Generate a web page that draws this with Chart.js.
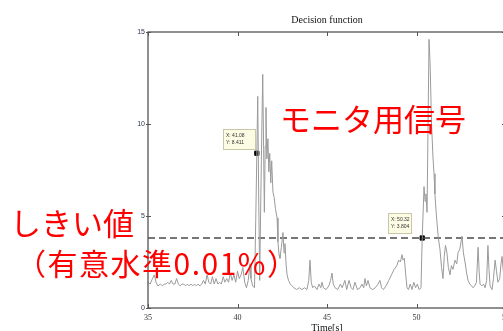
<!DOCTYPE html>
<html>
<head>
<meta charset="utf-8">
<script src="https://cdn.jsdelivr.net/npm/chart.js@4"></script>
<style>
  html, body { margin: 0; padding: 0; background: #fff; overflow: hidden; width: 503px; height: 331px; }
  canvas { display: block; }
</style>
</head>
<body>
<canvas id="myChart" width="515" height="334"></canvas>
<script>
// time axis [s] and decision function values
const times = [
  35.0, 35.12, 35.25, 35.35, 35.45, 35.55, 35.7, 35.8, 35.9, 36.0,
  36.1, 36.2, 36.3, 36.4, 36.5, 36.6, 36.7, 36.8, 36.9, 37.0,
  37.1, 37.2, 37.3, 37.4, 37.5, 37.6, 37.7, 37.8, 37.9, 38.0,
  38.1, 38.2, 38.3, 38.4, 38.5, 38.6, 38.7, 38.8, 38.9, 39.0,
  39.1, 39.2, 39.3, 39.4, 39.5, 39.6, 39.7, 39.8, 39.9, 40.0,
  40.1, 40.2, 40.3, 40.4, 40.5, 40.6, 40.7, 40.75, 40.85, 40.95,
  41.02, 41.08, 41.13, 41.19, 41.24, 41.30, 41.36, 41.41, 41.46, 41.50,
  41.55, 41.59, 41.64, 41.70, 41.75, 41.80, 41.86, 41.91, 41.98, 42.05,
  42.12, 42.21, 42.26, 42.32, 42.37, 42.45, 42.54, 42.60, 42.65, 42.72,
  42.77, 42.85, 42.95, 43.05, 43.15, 43.3, 43.45, 43.6, 43.75, 43.88,
  43.98, 44.05, 44.12, 44.2, 44.3, 44.44, 44.55, 44.65, 44.72, 44.8,
  44.95, 45.1, 45.2, 45.28, 45.35, 45.45, 45.6, 45.75, 45.85, 46.0,
  46.1, 46.23, 46.35, 46.45, 46.56, 46.7, 46.85, 46.95, 47.05, 47.12,
  47.2, 47.29, 47.4, 47.55, 47.7, 47.85, 47.96, 48.05, 48.15, 48.3,
  48.45, 48.6, 48.75, 48.9, 49.0, 49.1, 49.19, 49.25, 49.32, 49.4,
  49.47, 49.55, 49.65, 49.75, 49.85, 49.95, 50.05, 50.15, 50.25, 50.32,
  50.42, 50.48, 50.53, 50.59, 50.70, 50.76, 50.84, 50.92, 50.98, 51.03,
  51.09, 51.15, 51.22, 51.31, 51.4, 51.48, 51.55, 51.62, 51.70, 51.78,
  51.87, 51.95, 52.04, 52.15, 52.25, 52.32, 52.42, 52.54, 52.62, 52.71,
  52.8, 52.88, 52.98, 53.08, 53.16, 53.25, 53.35, 53.44, 53.5, 53.55,
  53.65, 53.75, 53.83, 53.92, 53.99, 54.05, 54.11, 54.22, 54.3, 54.39,
  54.47, 54.55, 54.65, 54.72, 54.78, 54.85, 54.92, 55.0
];
const values = [
  1.4, 1.3, 1.6, 1.8, 1.4, 1.2, 1.3, 1.2, 1.3, 1.3,
  1.4, 1.3, 1.5, 1.3, 1.3, 1.6, 1.3, 1.2, 1.3, 1.3,
  1.2, 1.3, 1.2, 1.3, 1.2, 1.3, 1.2, 1.3, 1.2, 1.3,
  1.5, 1.3, 1.8, 1.4, 1.3, 1.7, 1.3, 1.6, 1.3, 1.4,
  1.3, 1.7, 1.4, 1.6, 1.4, 1.9, 1.5, 1.8, 1.4, 2.0,
  1.6, 1.8, 2.2, 1.4, 1.1, 1.5, 2.4, 1.6, 1.2, 1.1,
  4.8, 8.411, 11.5, 5.5, 1.5, 5.8, 9.8, 12.7, 8.6, 5.2,
  8.8, 10.9, 8.1, 9.2, 7.4, 8.4, 6.8, 8.0, 6.3, 6.0,
  5.4, 4.9, 3.6, 2.9, 2.7, 3.3, 4.1, 3.0, 3.5, 2.3,
  1.8, 1.5, 1.3, 1.2, 1.1, 1.0, 1.1, 1.0, 1.1, 1.0,
  1.5, 2.6, 1.4, 1.1, 1.2, 1.0, 1.3, 1.1, 1.4, 1.1,
  1.0, 1.2, 1.5, 1.9, 1.3, 1.1, 1.0, 1.3, 1.1, 1.5,
  1.0, 1.5, 1.1, 1.0, 1.4, 1.0, 1.1, 1.3, 1.1, 1.6,
  1.2, 1.5, 1.1, 1.0, 1.1, 1.3, 1.5, 1.1, 1.0, 1.2,
  1.5, 1.8, 2.1, 2.3, 2.6, 2.5, 2.9, 2.6, 2.7, 1.8,
  1.1, 1.0, 1.3, 1.0, 1.4, 1.1, 1.3, 1.0, 1.1, 3.804,
  6.6, 5.8, 6.2, 5.2, 14.6, 13.3, 10.0, 8.2, 7.3, 6.2,
  5.3, 4.6, 3.8, 3.2, 2.2, 1.6, 2.8, 3.4, 3.0, 2.2,
  1.8, 2.3, 2.1, 2.6, 2.4, 3.0, 3.2, 3.9, 3.0, 2.5,
  1.9, 1.5, 1.3, 1.2, 1.1, 1.2, 1.4, 3.3, 2.0, 1.3,
  1.2, 1.3, 1.1, 1.5, 3.4, 2.1, 1.2, 1.0, 1.6, 2.6,
  2.0, 1.4, 1.6, 2.4, 2.8, 2.0, 1.5, 1.8
];

const threshold = 3.804;
const markerTimes = [41.08, 50.32];
const markerValues = [8.411, 3.804];
const xTicks = [35, 40, 45, 50, 55];
const yTicks = [0, 5, 10, 15];

// red annotation texts
const notes = [
  { text: 'モニタ用信号', x: 280, y: 119, size: 31, spacing: 0 },
  { text: 'しきい値', x: 10, y: 223, size: 31, spacing: 0 },
  { text: '（有意水準0.01%）', x: 16, y: 264, size: 30, spacing: 1.5 }
];

const tipBoxes = [
  { dx: -34, dy: -24, w: 32 },
  { dx: -34, dy: -25, w: 23 }
];

const framePlugin = {
  id: 'frame',
  afterDatasetsDraw(chart) {
    const { ctx, chartArea: a, scales: { x, y } } = chart;
    ctx.save();
    ctx.strokeStyle = '#555';
    ctx.lineWidth = 1.3;
    ctx.strokeRect(a.left, a.top, a.right - a.left, a.bottom - a.top);
    ctx.lineWidth = 1;
    ctx.beginPath();
    xTicks.forEach(t => {
      const px = Math.round(x.getPixelForValue(t)) + 0.5;
      ctx.moveTo(px, a.bottom); ctx.lineTo(px, a.bottom - 4);
      ctx.moveTo(px, a.top); ctx.lineTo(px, a.top + 4);
    });
    yTicks.forEach(t => {
      const py = Math.round(y.getPixelForValue(t)) + 0.5;
      ctx.moveTo(a.left - 2, py); ctx.lineTo(a.left + 3, py);
      ctx.moveTo(a.right, py); ctx.lineTo(a.right - 4, py);
    });
    ctx.stroke();

    // data tips
    markerTimes.forEach((t, i) => {
      const mx = x.getPixelForValue(t);
      const my = y.getPixelForValue(markerValues[i]);
      const b = tipBoxes[i];
      const bx = Math.round(mx + b.dx), by = Math.round(my + b.dy);
      ctx.fillStyle = '#fcfbe3';
      ctx.fillRect(bx, by, b.w, 20);
      ctx.strokeStyle = '#c9c7a8';
      ctx.strokeRect(bx + 0.5, by + 0.5, b.w, 20);
      ctx.fillStyle = '#333';
      ctx.font = '5px "Liberation Sans"';
      ctx.textBaseline = 'middle';
      ctx.fillText('X: ' + t.toFixed(2), bx + 3, by + 7);
      ctx.fillText('Y: ' + markerValues[i].toFixed(3), bx + 3, by + 14);
    });

    // red notes
    ctx.fillStyle = '#ff0000';
    ctx.textBaseline = 'middle';
    notes.forEach(n => {
      ctx.font = n.size + 'px "Noto Sans CJK JP"';
      ctx.letterSpacing = n.spacing + 'px';
      ctx.fillText(n.text, n.x, n.y);
    });
    ctx.restore();
  }
};

const ctx = document.getElementById('myChart').getContext('2d');

new Chart(ctx, {
  type: 'line',
  data: {
    datasets: [
      {
        label: 'signal',
        data: times.map((t, i) => ({ x: t, y: values[i] })),
        borderColor: '#9a9a9a',
        borderWidth: 1,
        pointRadius: 0,
        tension: 0
      },
      {
        label: 'threshold',
        data: [{ x: xTicks[0], y: threshold }, { x: xTicks[xTicks.length - 1], y: threshold }],
        borderColor: '#4a4a4a',
        borderWidth: 1.4,
        borderDash: [7, 4],
        pointRadius: 0
      },
      {
        label: 'markers',
        data: markerTimes.map((t, i) => ({ x: t, y: markerValues[i] })),
        showLine: false,
        pointStyle: 'rect',
        pointRadius: 3,
        backgroundColor: '#000',
        borderColor: '#000'
      }
    ]
  },
  options: {
    responsive: false,
    animation: false,
    events: [],
    layout: { padding: { left: 0, right: 9, top: 0, bottom: 0 } },
    plugins: {
      legend: { display: false },
      tooltip: { enabled: false },
      title: {
        display: true,
        text: 'Decision function',
        fullSize: false,
        color: '#111',
        font: { family: 'Liberation Serif', size: 10, weight: 'normal' },
        padding: { top: 14, bottom: 6 }
      }
    },
    scales: {
      x: {
        type: 'linear',
        min: 35,
        max: 55,
        afterBuildTicks: s => { s.ticks = xTicks.map(v => ({ value: v })); },
        afterFit: s => { s.height = 26; },
        grid: { display: false, drawTicks: false },
        border: { display: false },
        ticks: { padding: 5, color: '#333', font: { family: 'Liberation Serif', size: 8 }, maxRotation: 0 },
        title: { display: true, text: 'Time[s]', color: '#111', padding: 0, font: { family: 'Liberation Serif', size: 10 } }
      },
      y: {
        type: 'linear',
        min: 0,
        max: 15,
        afterBuildTicks: s => { s.ticks = yTicks.map(v => ({ value: v })); },
        afterFit: s => { s.width = 148; },
        grid: { display: false, drawTicks: false },
        border: { display: false },
        ticks: { padding: 3, color: '#2b3550', font: { family: 'Liberation Sans', size: 7 } }
      }
    }
  },
  plugins: [framePlugin]
});
</script>
</body>
</html>
